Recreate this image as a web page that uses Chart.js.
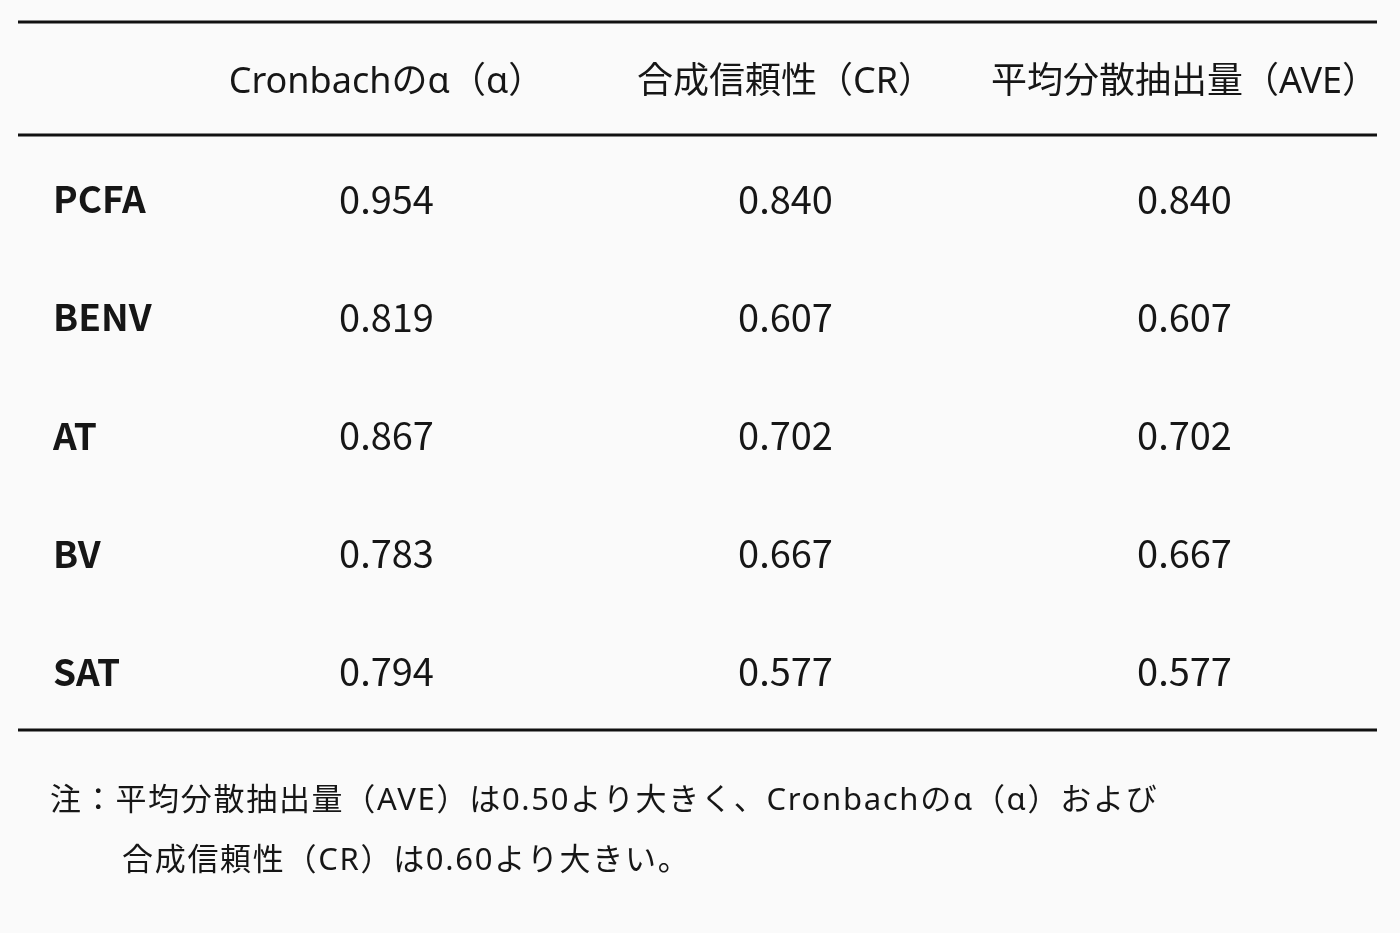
<!DOCTYPE html>
<html lang="ja">
<head>
<meta charset="utf-8">
<title>信頼性と妥当性</title>
<script src="https://cdn.jsdelivr.net/npm/chart.js@4.4.1/dist/chart.umd.min.js"></script>
<style>
  html, body { margin: 0; padding: 0; background: #fafafa; }
  #wrap { width: 1400px; height: 933px; position: relative; }
</style>
</head>
<body>
<div id="wrap"><canvas id="tbl"></canvas></div>
<script>
// ===== table data =====
const rowNames   = ['PCFA', 'BENV', 'AT', 'BV', 'SAT'];
const colHeaders = ['Cronbachのα（α）', '合成信頼性（CR）', '平均分散抽出量（AVE）'];
const alphaVals  = [0.954, 0.819, 0.867, 0.783, 0.794];
const crVals     = [0.840, 0.607, 0.702, 0.667, 0.577];
const aveVals    = [0.840, 0.607, 0.702, 0.667, 0.577];
const noteLines  = [
  '注：平均分散抽出量（AVE）は0.50より大きく、Cronbachのα（α）および',
  '合成信頼性（CR）は0.60より大きい。'
];

const FONT  = '"Noto Sans CJK JP", "Noto Sans", sans-serif';
const WIDE  = '"Noto Sans", "Noto Sans CJK JP", sans-serif';
const INK   = '#161616';

function toPoints(vals, col) {
  return vals.map(function(v, i) { return { x: colHeaders[col], y: rowNames[i], v: v }; });
}

// draws the rules, the cell numbers and the footnote
const tablePlugin = {
  id: 'tableText',
  beforeDraw: function(chart) {
    const ctx = chart.ctx;
    ctx.save();
    ctx.fillStyle = '#fafafa';
    ctx.fillRect(0, 0, chart.width, chart.height);
    ctx.restore();
  },
  afterDatasetsDraw: function(chart) {
    const ctx  = chart.ctx;
    const area = chart.chartArea;
    const xs   = chart.scales.x;

    ctx.save();
    ctx.strokeStyle = '#111';
    ctx.lineWidth   = 3;
    [xs.top, area.top - 5, area.bottom - 1].forEach(function(y) {
      ctx.beginPath();
      ctx.moveTo(18, y);
      ctx.lineTo(1377, y);
      ctx.stroke();
    });

    ctx.fillStyle    = INK;
    ctx.font         = '38px ' + FONT;
    ctx.textAlign    = 'center';
    ctx.textBaseline = 'middle';
    chart.data.datasets.forEach(function(ds, di) {
      chart.getDatasetMeta(di).data.forEach(function(pt, i) {
        ctx.fillText(ds.data[i].v.toFixed(3), pt.x, pt.y);
      });
    });

    ctx.font      = '31px ' + WIDE;
    ctx.textAlign = 'left';
    ctx.letterSpacing = '1.7px';
    ctx.fillText(noteLines[0], 50, area.bottom + 70);
    ctx.fillText(noteLines[1], 122, area.bottom + 130);
    ctx.restore();
  }
};

const ctx = document.getElementById('tbl').getContext('2d');
new Chart(ctx, {
  type: 'scatter',
  data: {
    datasets: [
      { label: colHeaders[0], data: toPoints(alphaVals, 0) },
      { label: colHeaders[1], data: toPoints(crVals, 1) },
      { label: colHeaders[2], data: toPoints(aveVals, 2) }
    ]
  },
  options: {
    responsive: true,
    maintainAspectRatio: false,
    animation: false,
    events: [],
    layout: { padding: { top: 22, left: 53, right: 16, bottom: 202 } },
    elements: { point: { radius: 0, hoverRadius: 0 } },
    plugins: {
      legend : { display: false },
      tooltip: { enabled: false }
    },
    scales: {
      x: {
        type: 'category',
        labels: colHeaders,
        position: 'top',
        offset: true,
        grid  : { display: false, drawTicks: false },
        border: { display: false },
        ticks : { color: INK, font: { family: WIDE, size: 36 }, padding: 36, maxRotation: 0, autoSkip: false },
        afterFit: function(s) { s.height = 118; s.paddingLeft = 0; s.paddingRight = 0; }
      },
      y: {
        type: 'category',
        labels: rowNames,
        offset: true,
        grid  : { display: false, drawTicks: false },
        border: { display: false },
        ticks : { color: INK, crossAlign: 'far', font: { family: FONT, size: 37, weight: 'bold' }, autoSkip: false },
        afterFit: function(s) { s.width = 134; }
      }
    }
  },
  plugins: [tablePlugin]
});
</script>
</body>
</html>
